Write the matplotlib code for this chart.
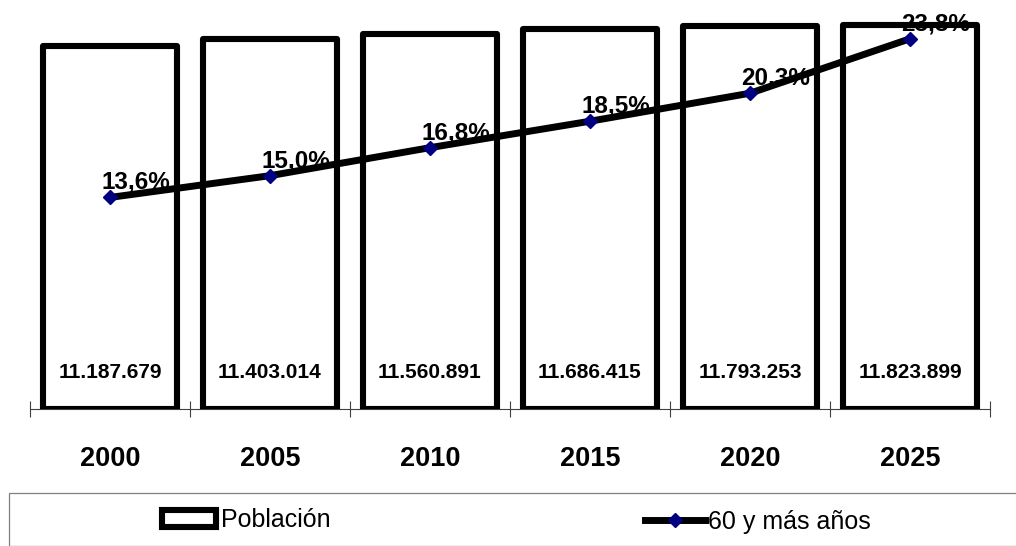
import matplotlib.pyplot as plt
from matplotlib.patches import Rectangle

plt.rcParams['font.family'] = ['Liberation Sans', 'DejaVu Sans']

years = ['2000', '2005', '2010', '2015', '2020', '2025']
poblacion = [11187679, 11403014, 11560891, 11686415, 11793253, 11823899]
pct_60_mas = [13.6, 15.0, 16.8, 18.5, 20.3, 23.8]


def miles(v):
    return f'{v:,}'.replace(',', '.')


def pct(v):
    return f'{v:.1f}%'.replace('.', ',')


W, H = 1016, 546
fig = plt.figure(figsize=(W / 100, H / 100), dpi=100)
ax = fig.add_axes([30 / W, (H - 409) / H, 960 / W, 406 / H])
ax2 = ax.twinx()

x = list(range(len(years)))
ax.set_xlim(-0.5, len(years) - 0.5)
ax.set_ylim(0, 12.5e6)
ax2.set_ylim(0, 26.1)

# white fill first, edges later so they sit over the percentage labels
ax.bar(x, poblacion, width=0.84, color='white', edgecolor='none', zorder=1)
bars = ax.bar(x, poblacion, width=0.84, fill=False, edgecolor='black',
              linewidth=4.4, joinstyle='round', zorder=3, label='Población')

for i, v in enumerate(poblacion):
    ax.annotate(miles(v), xy=(i, 0), xytext=(0, 36), textcoords='offset pixels',
                ha='center', va='center', fontsize=15, fontweight='bold', zorder=4)

for i, p in enumerate(pct_60_mas):
    ax.annotate(pct(p), xy=(i, p), xycoords=ax2.transData, xytext=(26, 15),
                textcoords='offset pixels', ha='center', va='center',
                fontsize=17.5, fontweight='bold', zorder=2)

line, = ax2.plot(x, pct_60_mas, color='black', linewidth=5, marker='D',
                 markersize=7.6, markerfacecolor='#000080',
                 markeredgecolor='#000080', label='60 y más años', zorder=3)

for s in ['left', 'right', 'top']:
    ax.spines[s].set_visible(False)
    ax2.spines[s].set_visible(False)
ax2.spines['bottom'].set_visible(False)
ax.spines['bottom'].set_color('#404040')
ax.spines['bottom'].set_linewidth(0.8)
ax.set_yticks([])
ax2.set_yticks([])

# category boundaries carry the tick marks, years go below
ax.set_xticks([i - 0.5 for i in range(len(years) + 1)])
ax.set_xticklabels([])
ax.tick_params(axis='x', direction='inout', length=11, width=0.8, color='#404040')
for i, y in enumerate(years):
    ax.annotate(y, xy=(i, 0), xycoords=('data', 'axes fraction'), xytext=(0, -50),
                textcoords='offset pixels', ha='center', va='center',
                fontsize=19.5, fontweight='bold')

# legend box
fig.patches.append(Rectangle((9 / W, 0), 1.1, (H - 493) / H, transform=fig.transFigure,
                             fill=False, edgecolor='#808080', linewidth=0.9))
fig.legend(handles=[bars], loc='center left', bbox_to_anchor=(162 / W, (H - 520) / H),
           frameon=False, fontsize=18, handlelength=2.16, handletextpad=0.2,
           borderpad=0, borderaxespad=0)
fig.legend(handles=[line], loc='center left', bbox_to_anchor=(645 / W, (H - 522) / H),
           frameon=False, fontsize=18, handlelength=2.4, handletextpad=0.1,
           borderpad=0, borderaxespad=0, markerscale=1)

fig.savefig('out.png', dpi=100)
